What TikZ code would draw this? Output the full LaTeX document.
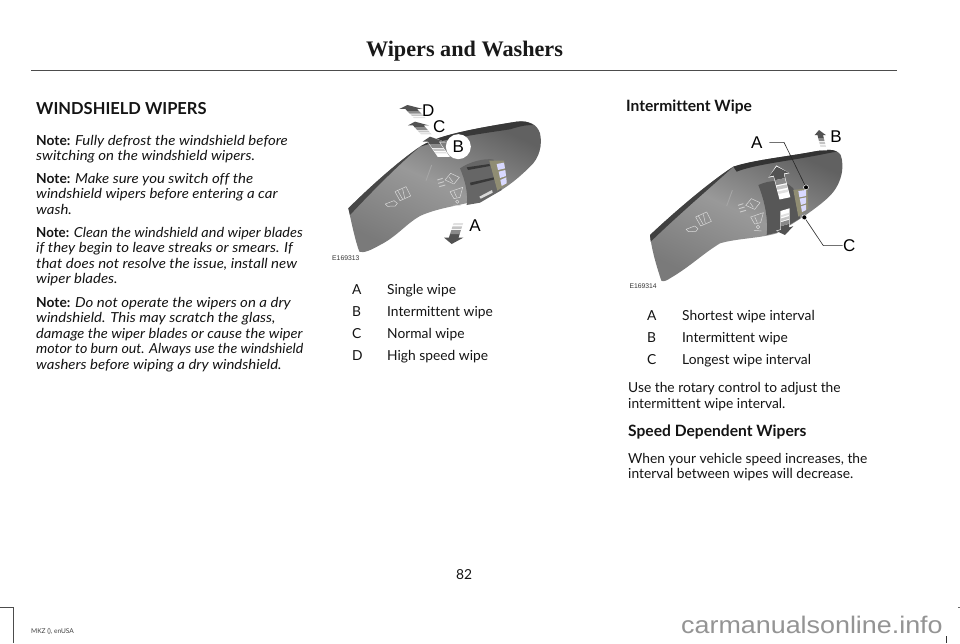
\documentclass[tikz,border=0pt]{standalone}
\usepackage{fontspec}
\setmainfont[Ligatures=NoCommon,ItalicFeatures={FakeStretch=1.085}]{Lato}
\newfontfamily\headfont{Liberation Serif}
\newfontfamily\labfont{Liberation Sans}
\newfontfamily\wmfont[FakeStretch=1.12]{Liberation Sans}
\tikzset{
 body/.style={inner sep=0,anchor=base west,font=\fontsize{13.8}{16}\selectfont,text=black!92},
 bodyc/.style={body,anchor=base},
 heading/.style={body,font=\fontsize{15.6}{16}\selectfont\bfseries},
 callout/.style={inner sep=0,anchor=center,font=\labfont\fontsize{17}{18}\selectfont},
 code/.style={inner sep=0,anchor=base west,font=\labfont\fontsize{6.8}{8}\selectfont,text=black!80},
 leader/.style={line width=.6pt,black!85},
 dot/.style={circle,fill=black,draw=white,line width=.5pt,minimum size=5pt,inner sep=0},
 sym/.style={draw=white!85!black,line width=.5pt,line join=round},
 rulec/.style={line width=.7pt,black!70},
}
\definecolor{bandA}{HTML}{5E5E5E}
\definecolor{bandB}{HTML}{8A8A8A}
\definecolor{bandC}{HTML}{C4C4C4}
\newcommand{\blockarr}[3]{%
 \begin{scope}[shift={(#1,#2)},#3]
  \fill[white] (0,-3)--(-43,21)--(-22,21)--(-22,76)--(22,76)--(22,21)--(43,21)--cycle;
  \fill[black!68] (0,0)--(-40,19)--(-20,19)--(-20,30)--(20,30)--(20,19)--(40,19)--cycle;
  \fill[bandB] (-20,30) rectangle (20,42);
  \fill[bandC] (-20,45) rectangle (20,53);
  \fill[black!12] (-20,57) rectangle (20,63);
 \end{scope}}
\newcommand{\wipersyms}{%
 \draw[sym] (196,342)--(222,332)--(232,340)--(226,348)--(203,349)--cycle;
 \draw[sym] (225,305)--(258,290)--(272,318)--(240,332)--cycle;
 \draw[sym] (232,300)--(248,328) (248,297)--(254,324);
 \draw[sym] (375,270)--(392,250)--(418,262)--(402,282)--cycle;
 \draw[sym] (388,262)--(398,276);
 \draw[sym] (390,305)--(428,292)--(420,322)--(402,326)--cycle;
 \draw[sym] (402,304)--(410,322);
 \draw[sym] (400,345)--(422,347) (412,335) circle (5);
 \draw[line width=.9pt,white!80!black] (352,270)--(368,265) (355,280)--(372,275) (358,290)--(376,285);
 \draw[line width=.9pt,black!35] (335,225)--(318,272);
}
\begin{document}
\begin{tikzpicture}[x=1pt,y=-1pt]
\useasboundingbox (0,0) rectangle (960,643);
\fill[white] (0,0) rectangle (960,643);
% header
\node[inner sep=0,anchor=base,font=\headfont\bfseries\fontsize{22.2}{24}\selectfont,text=black!90] (title) at (464.5,56.7) {Wipers and Washers};
\draw[rulec] (31,70)--(897,70);
% left column
\node[heading,font=\fontsize{16.5}{18}\selectfont\bfseries] (h1) at (36,114) {WINDSHIELD WIPERS};
\node[body] (t1) at (36,145) {\textbf{Note:} \textit{Fully defrost the windshield before}};
\node[body] (t2) at (36,160.8) {\textit{switching on the windshield wipers.}};
\node[body] (t3) at (36,183) {\textbf{Note:} \textit{Make sure you switch off the}};
\node[body] (t4) at (36,198.5) {\textit{windshield wipers before entering a car}};
\node[body] (t5) at (36,214) {\textit{wash.}};
\node[body] (t6) at (36,237) {\scalebox{.965}[1]{\textbf{Note:} \textit{Clean the windshield and wiper blades}}};
\node[body] (t7) at (36,252.6) {\textit{if they begin to leave streaks or smears. If}};
\node[body] (t8) at (36,268.2) {\textit{that does not resolve the issue, install new}};
\node[body] (t9) at (36,283.8) {\textit{wiper blades.}};
\node[body] (t10) at (36,307) {\textbf{Note:} \textit{Do not operate the wipers on a dry}};
\node[body] (t11) at (36,322.5) {\textit{windshield. This may scratch the glass,}};
\node[body] (t12) at (36,338) {\scalebox{.98}[1]{\textit{damage the wiper blades or cause the wiper}}};
\node[body] (t13) at (36,353.5) {\scalebox{.95}[1]{\textit{motor to burn out. Always use the windshield}}};
\node[body] (t14) at (36,369) {\textit{washers before wiping a dry windshield.}};
% middle list
\node[body] (la) at (352,294) {A}; \node[body] (lat) at (387,294) {Single wipe};
\node[body] (lb) at (352,316) {B}; \node[body] (lbt) at (387,316) {Intermittent wipe};
\node[body] (lc) at (352,338) {C}; \node[body] (lct) at (387,338) {Normal wipe};
\node[body] (ld) at (352,360) {D}; \node[body] (ldt) at (387,360) {High speed wipe};
% right column
\node[heading] (h2) at (626,111) {Intermittent Wipe};
\node[body] (ra) at (647,320) {A}; \node[body] (rat) at (682,320) {Shortest wipe interval};
\node[body] (rb) at (647,342) {B}; \node[body] (rbt) at (682,342) {Intermittent wipe};
\node[body] (rc) at (647,364) {C}; \node[body] (rct) at (682,364) {Longest wipe interval};
\node[body] (u1) at (628,392.7) {Use the rotary control to adjust the};
\node[body] (u2) at (628,408.2) {intermittent wipe interval.};
\node[heading] (h3) at (628,436.7) {Speed Dependent Wipers};
\node[body] (w1) at (628,463) {When your vehicle speed increases, the};
\node[body] (w2) at (628,478.7) {interval between wipes will decrease.};
% footer
\node[bodyc] (pg) at (464,579) {82};
\node[inner sep=0,anchor=base west,font=\fontsize{6.6}{8}\selectfont,text=black!75] (mkz) at (31,633) {MKZ (), enUSA};
\node[inner sep=0,anchor=base west,font=\wmfont\fontsize{24}{26}\selectfont,text=black!42] (wm) at (681,633.5) {carmanualsonline.info};
\draw[line width=.7pt,black!70] (0,607)--(13,607)--(13,643);
\draw[line width=.7pt,black!80] (946,636)--(946,643);
\draw[line width=.7pt,black!60] (958,607)--(960,607);
% lever 1
\begin{scope}[shift={(320,90)},scale=1/3]
 \shade[left color=black!62,right color=black!52,middle color=black!40,shading angle=-25]
  (85,355) .. controls (150,290) and (240,210) .. (300,170)
  .. controls (340,145) and (400,125) .. (590,95)
  .. controls (625,92) and (650,100) .. (660,130)
  .. controls (668,165) and (658,205) .. (630,230)
  .. controls (590,270) and (540,310) .. (490,325)
  .. controls (440,345) and (360,350) .. (300,378)
  .. controls (260,400) and (230,440) .. (180,465)
  .. controls (150,482) and (130,490) .. (118,485)
  .. controls (105,450) and (95,400) .. (85,355) -- cycle;
 \fill[black!78] (300,170) .. controls (340,145) and (400,125) .. (590,95)
  .. controls (610,92) and (625,95) .. (640,105) .. controls (610,105) and (590,112) .. (570,118)
  .. controls (490,130) and (380,145) .. (300,170) -- cycle;
 \fill[black!72] (85,355) .. controls (150,290) and (240,210) .. (300,170)
  .. controls (240,220) and (160,300) .. (90,375) -- cycle;
 \fill[black!60] (420,235) .. controls (450,215) and (490,205) .. (520,208)
  .. controls (530,240) and (540,280) .. (545,300) -- (480,338) -- (440,345)
  .. controls (445,310) and (435,270) .. (420,235) -- cycle;
 \fill[black!78] (440,232)--(508,222)--(510,228)--(444,240)--cycle;
 \fill[black!78] (450,278)--(522,262)--(524,268)--(452,286)--cycle;
 \fill[black!15] (478,320)--(516,300)--(518,308)--(482,326)--cycle;
 \fill[black!50!yellow!40!gray] (508,212)--(552,212)--(562,282)--(532,302)--cycle;
 \fill[white!85!blue] (530,222)--(552,218)--(555,235)--(534,240)--cycle;
 \fill[white!85!blue] (536,245)--(556,240)--(558,258)--(540,264)--cycle;
 \fill[white!85!blue] (541,270)--(559,262)--(560,280)--(545,288)--cycle;
 \wipersyms
 \blockarr{262}{45}{xslant=-.96,xscale=.88,yscale=.62}
 \blockarr{285}{95}{xslant=-.9,xscale=.8,yscale=.6}
 \blockarr{395}{462}{xslant=.32,xscale=.72,yscale=-1}
 \node[circle,fill=white,minimum size=25pt,inner sep=0] (b1bg) at (415,170) {};
 \blockarr{330}{140}{xslant=-.68,xscale=.82,yscale=.8}
 \node[callout] (cD) at (325,62) {D};
 \node[callout] (cC) at (358,110) {C};
 \node[callout] (cB) at (415,170) {B};
 \node[callout] (cA) at (465,408) {A};
 \node[code] (e1) at (36,511) {E169313};
\end{scope}
% lever 2
\begin{scope}[shift={(620,110)},scale=1/3]
 \shade[left color=black!62,right color=black!52,middle color=black!40,shading angle=-25]
  (90,375) .. controls (170,300) and (270,215) .. (340,170)
  .. controls (400,150) and (500,140) .. (580,125)
  .. controls (620,118) and (650,115) .. (662,135)
  .. controls (675,170) and (665,225) .. (625,262)
  .. controls (590,295) and (530,335) .. (470,370)
  .. controls (420,385) and (350,385) .. (300,400)
  .. controls (250,430) and (210,470) .. (150,505)
  .. controls (140,512) and (130,516) .. (124,512)
  .. controls (110,470) and (95,420) .. (90,375) -- cycle;
 \fill[black!80] (340,170) .. controls (400,150) and (500,140) .. (580,125)
  .. controls (620,118) and (640,118) .. (650,125) .. controls (620,130) and (600,135) .. (570,140)
  .. controls (490,155) and (400,165) .. (350,185) -- cycle;
 \fill[black!75] (90,375) .. controls (170,300) and (270,215) .. (340,170)
  .. controls (280,225) and (180,310) .. (92,395) -- cycle;
 \fill[black!66] (415,225) .. controls (450,210) and (490,205) .. (520,235)
  .. controls (530,270) and (535,300) .. (540,325) -- (470,368) -- (440,375)
  .. controls (445,330) and (435,275) .. (415,225) -- cycle;
 \fill[black!50!yellow!40!gray] (520,240)--(562,235)--(565,295)--(535,320)--cycle;
 \fill[white!85!blue] (535,243)--(558,240)--(558,258)--(538,262)--cycle;
 \fill[white!85!blue] (539,266)--(558,262)--(558,280)--(543,285)--cycle;
 \fill[white!85!blue] (543,289)--(558,284)--(558,300)--(546,306)--cycle;
 \begin{scope}[shift={(2,16)}]\wipersyms\end{scope}
 \blockarr{597}{60}{xslant=-.25,xscale=.42,yscale=.8}
 \blockarr{470}{170}{xslant=-.26,yslant=.2,xscale=.78,yscale=1.25}
 \blockarr{495}{375}{yslant=.3,xscale=.62,yscale=-1}
 \node[callout] (cA2) at (410,97) {A};
 \node[callout] (cB2) at (648,80) {B};
 \node[callout] (cC2) at (688,408) {C};
 \node[dot] (dA) at (558,232) {};
 \node[dot] (dC) at (553,322) {};
 \coordinate (sA) at (448,97);
 \coordinate (kA) at (492,97);
 \coordinate (sC) at (668,407);
 \coordinate (kC) at (610,407);
 \draw[leader] (sA)--(kA)--(dA);
 \draw[leader] (sC)--(kC)--(dC);
 \node[code] (e2) at (28,536) {E169314};
\end{scope}
\end{tikzpicture}
\end{document}
